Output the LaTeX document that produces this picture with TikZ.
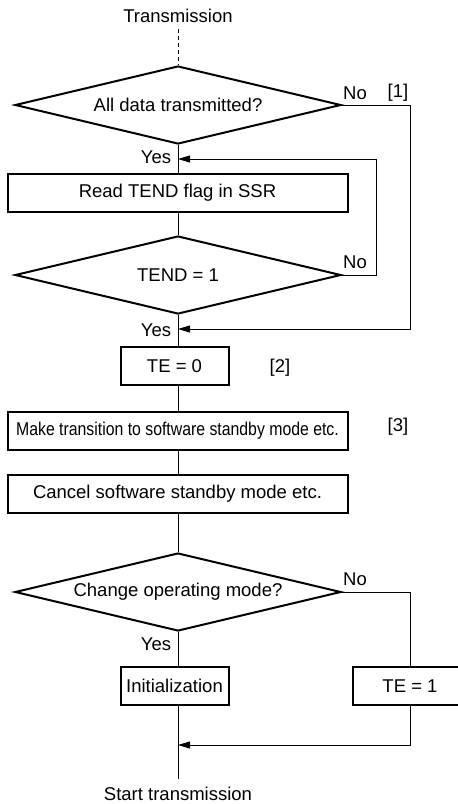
\documentclass[tikz,border=0pt]{standalone}
\usepackage{fontspec}
\setmainfont{Liberation Sans}
\usepackage{graphicx}
\usetikzlibrary{arrows.meta,positioning,shapes.geometric}

\begin{document}
\begin{tikzpicture}[
    x=1pt, y=-1pt,
    font=\fontsize{18.5}{22}\selectfont,
    >={Triangle[length=12pt,width=7pt]},
    box/.style={draw, line width=2pt, minimum height=38pt, inner sep=0pt, align=center},
    dec/.style={draw, diamond, line width=2pt, aspect=4.2, minimum width=326pt, minimum height=78pt, inner sep=0pt},
    ln/.style={line width=0.9pt},
    arr/.style={->, line width=0.9pt}
]
    \useasboundingbox (0,0) rectangle (458,804);
    \clip (0,0) rectangle (458,804);

    \node (start) at (178,16) {Transmission};
    \node[dec] (alld) at (178,105) {All data transmitted?};
    \node[box, minimum width=340pt] (rd) at (177.5,192.5) {Read TEND flag in SSR};
    \node[dec] (tend) at (178,275) {TEND = 1};
    \node[box, minimum width=108pt] (te0) at (174.5,366) {TE = 0};
    \node[box, minimum width=340pt] (sby) at (177.5,431) {\scalebox{0.855}[1]{Make transition to software standby mode etc.}};
    \node[box, minimum width=340pt] (cnl) at (177.5,494) {Cancel software standby mode etc.};
    \node[dec] (chg) at (178,592) {Change operating mode?};
    \node[box, minimum width=108pt] (init) at (174.5,686) {Initialization};
    \node[box, minimum width=114pt] (te1) at (410,686) {TE = 1};
    \node (fin) at (178,794) {Start transmission};

    \node (no1) at (355,93) {No};
    \node (n1) at (398,93) {[1]};
    \node (yes1) at (156,157) {Yes};
    \node (no2) at (355,262) {No};
    \node (yes2) at (156,330) {Yes};
    \node (n2) at (280,368) {[2]};
    \node (n3) at (398,427) {[3]};
    \node (no3) at (355,579) {No};
    \node (yes3) at (156,644) {Yes};

    \coordinate (j1) at (178,159);
    \coordinate (j2) at (178,329);
    \coordinate (j3) at (178,745);

    \draw[ln, dash pattern=on 4pt off 3pt, shorten <=3pt] (start.south) -- (alld.north);
    \draw[ln] (alld.south) -- (alld.south |- rd.north);
    \draw[ln] (alld.south |- rd.south) -- (tend.north);
    \draw[ln] (tend.south) -- (tend.south |- te0.north);
    \draw[ln] (tend.south |- te0.south) -- (tend.south |- sby.north);
    \draw[ln] (tend.south |- sby.south) -- (tend.south |- cnl.north);
    \draw[ln] (tend.south |- cnl.south) -- (chg.north);
    \draw[ln] (chg.south) -- (chg.south |- init.north);
    \draw[ln, shorten >=5pt] (chg.south |- init.south) -- (fin.north);

    \draw[arr] (tend.east) -- ++(34,0) |- (j1);
    \draw[arr] (alld.east) -- ++(68,0) |- (j2);
    \draw[ln] (chg.east) -| (te1.north);
    \draw[arr] (te1.south) |- (j3);
\end{tikzpicture}
\end{document}
